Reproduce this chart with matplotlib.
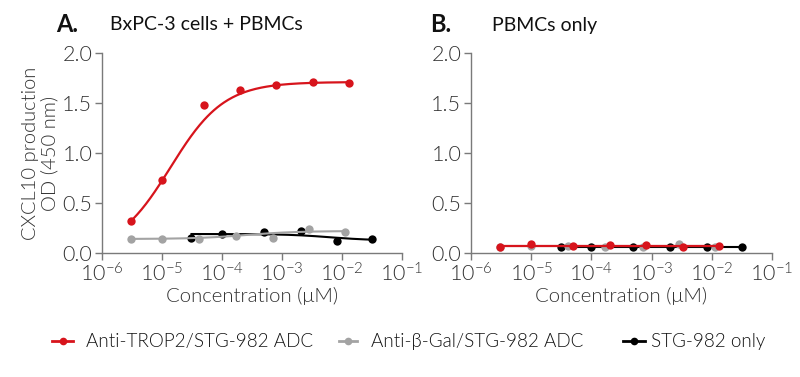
import numpy as np
import matplotlib
matplotlib.use("Agg")
import matplotlib.pyplot as plt
from matplotlib.lines import Line2D

plt.rcParams['font.family'] = ['Lato', 'DejaVu Sans']
plt.rcParams['mathtext.fontset'] = 'custom'
plt.rcParams['mathtext.rm'] = 'Lato:weight=300'
plt.rcParams['mathtext.it'] = 'Lato:weight=300'

# ---------------- data ----------------
series_names = ["Anti-TROP2/STG-982 ADC", "Anti-\u03b2-Gal/STG-982 ADC", "STG-982 only"]
series_colors = ["#d7141c", "#a3a3a3", "#000000"]

# Panel A: BxPC-3 cells + PBMCs
a_trop2_x = [3.0e-6, 1.0e-5, 5.0e-5, 2.0e-4, 8.0e-4, 3.3e-3, 1.3e-2]
a_trop2_y = [0.32, 0.73, 1.48, 1.63, 1.68, 1.71, 1.70]
a_bgal_x = [3.0e-6, 1.0e-5, 4.1e-5, 1.7e-4, 7.1e-4, 2.8e-3, 1.13e-2]
a_bgal_y = [0.14, 0.14, 0.14, 0.17, 0.15, 0.24, 0.21]
a_stg_x = [3.1e-5, 1.0e-4, 5.0e-4, 2.05e-3, 8.3e-3, 3.2e-2]
a_stg_y = [0.15, 0.19, 0.21, 0.22, 0.12, 0.14]

# Panel B: PBMCs only
b_trop2_x = [3.0e-6, 1.0e-5, 5.0e-5, 2.0e-4, 8.0e-4, 3.3e-3, 1.3e-2]
b_trop2_y = [0.065, 0.095, 0.07, 0.085, 0.078, 0.065, 0.068]
b_bgal_x = [3.0e-6, 1.0e-5, 4.1e-5, 1.7e-4, 7.1e-4, 2.8e-3, 1.13e-2]
b_bgal_y = [0.065, 0.075, 0.07, 0.065, 0.065, 0.09, 0.063]
b_stg_x = [3.1e-5, 1.0e-4, 5.0e-4, 2.05e-3, 8.3e-3, 3.2e-2]
b_stg_y = [0.058, 0.063, 0.058, 0.058, 0.058, 0.058]

# 4-parameter logistic fit parameters (bottom, top, logEC50, hill)
a_trop2_fit = (0.0, 1.71, -4.86, 0.97)
a_bgal_fit = (0.14, 0.22, -3.6, 1.0)
a_stg_fit = (0.19, 0.125, -2.2, 1.2)
b_trop2_fit = (0.075, 0.075, -3.0, 1.0)
b_bgal_fit = (0.068, 0.068, -3.0, 1.0)
b_stg_fit = (0.06, 0.06, -3.0, 1.0)

x_tick_labels = [r"$\mathregular{10^{-6}}$", r"$\mathregular{10^{-5}}$", r"$\mathregular{10^{-4}}$",
                 r"$\mathregular{10^{-3}}$", r"$\mathregular{10^{-2}}$", r"$\mathregular{10^{-1}}$"]
y_tick_labels = ["0.0", "0.5", "1.0", "1.5", "2.0"]

LIGHT = 300


def four_pl(x, p):
    bottom, top, logec50, hill = p
    return bottom + (top - bottom) / (1.0 + 10 ** ((logec50 - np.log10(x)) * hill))


W, H = 800, 377
fig = plt.figure(figsize=(W / 100, H / 100), dpi=100)
axA = fig.add_axes([102 / W, 1 - 253 / H, 300 / W, 200 / H])
axB = fig.add_axes([471 / W, 1 - 253 / H, 301 / W, 200 / H])

spine_col = "#7a7a7a"
text_col = "#333333"


def style_axis(ax):
    ax.set_xscale("log")
    ax.set_xlim(1e-6, 1e-1)
    ax.set_ylim(0, 2.0)
    for s in ["top", "right"]:
        ax.spines[s].set_visible(False)
    for s in ["left", "bottom"]:
        ax.spines[s].set_color(spine_col)
        ax.spines[s].set_linewidth(1.0)
    ax.set_xticks([1e-6, 1e-5, 1e-4, 1e-3, 1e-2, 1e-1])
    ax.set_xticklabels(x_tick_labels)
    ax.set_yticks([0, 0.5, 1.0, 1.5, 2.0])
    ax.set_yticklabels(y_tick_labels)
    ax.xaxis.set_minor_locator(matplotlib.ticker.LogLocator(base=10, subs=np.arange(2, 10)))
    ax.xaxis.set_minor_formatter(matplotlib.ticker.NullFormatter())
    ax.tick_params(axis="both", which="major", length=5, width=1.0, color=spine_col,
                   labelsize=15.5, labelcolor=text_col, pad=2)
    ax.tick_params(axis="x", which="minor", length=3, width=0.8, color=spine_col)
    for lab in ax.get_xticklabels() + ax.get_yticklabels():
        lab.set_fontweight(LIGHT)
    ax.set_xlabel("Concentration (\u03bcM)", fontsize=14.7, color=text_col, fontweight=LIGHT, labelpad=1)


def plot_series(ax, xs, ys, fit, color, lw, z):
    xs = np.array(xs)
    xx = np.logspace(np.log10(xs.min()), np.log10(xs.max()), 200)
    ax.plot(xx, four_pl(xx, fit), color=color, lw=lw, zorder=z, clip_on=False)
    ax.plot(xs, ys, "o", color=color, ms=6.0, zorder=z + 0.5, clip_on=False, mec="none")


for ax in (axA, axB):
    style_axis(ax)

plot_series(axA, a_stg_x, a_stg_y, a_stg_fit, series_colors[2], 1.5, 3)
plot_series(axA, a_bgal_x, a_bgal_y, a_bgal_fit, series_colors[1], 1.5, 4)
plot_series(axA, a_trop2_x, a_trop2_y, a_trop2_fit, series_colors[0], 1.6, 5)

plot_series(axB, b_stg_x, b_stg_y, b_stg_fit, series_colors[2], 1.5, 3)
plot_series(axB, b_bgal_x, b_bgal_y, b_bgal_fit, series_colors[1], 1.5, 4)
plot_series(axB, b_trop2_x, b_trop2_y, b_trop2_fit, series_colors[0], 1.6, 5)

axA.set_ylabel("CXCL10 production\nOD (450 nm)", fontsize=14.5, color=text_col,
               fontweight=LIGHT, linespacing=1.15)
axA.yaxis.set_label_coords(-0.145, 0.5)

# panel titles
fig.text(56 / W, 1 - 24 / H, "A.", fontsize=17, fontweight="bold", color="#111111", va="center")
fig.text(110 / W, 1 - 25 / H, "BxPC-3 cells + PBMCs", fontsize=14, color="#111111", va="center")
fig.text(430 / W, 1 - 24 / H, "B.", fontsize=17, fontweight="bold", color="#111111", va="center")
fig.text(492 / W, 1 - 25 / H, "PBMCs only", fontsize=14, color="#111111", va="center")

# legend (manual placement to match reference spacing)
leg_y = 1 - 341 / H
leg_handle_x = [(52, 73), (339, 357), (623, 645)]
leg_text_x = [86, 371, 651]
for (x0, x1), tx, name, col in zip(leg_handle_x, leg_text_x, series_names, series_colors):
    fig.add_artist(Line2D([x0 / W, x1 / W], [leg_y, leg_y], transform=fig.transFigure,
                          color=col, lw=2.0))
    fig.add_artist(Line2D([(x0 + x1) / 2 / W], [leg_y], transform=fig.transFigure,
                          color=col, marker="o", ms=5.5, mec="none", lw=0))
    fig.text(tx / W, leg_y, name, fontsize=13.6, fontweight=LIGHT, color="#111111",
             va="center", ha="left")

fig.savefig("out.png", dpi=100)
